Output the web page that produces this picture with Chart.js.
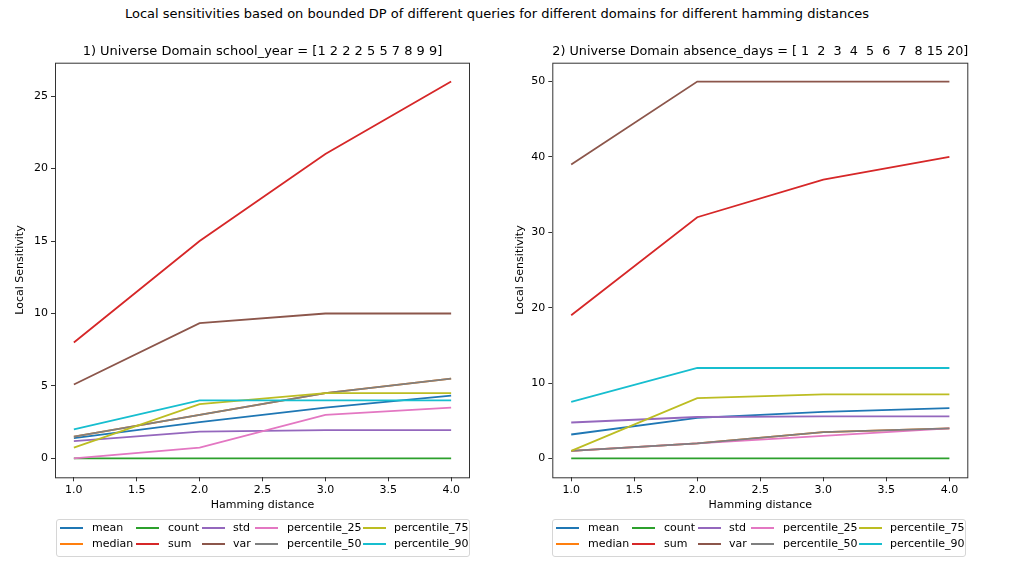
<!DOCTYPE html>
<html lang="en">
<head>
    <meta charset="UTF-8">
    <title>Local sensitivities</title>
    <script src="https://cdn.jsdelivr.net/npm/chart.js"></script>
    <style>
        body {
            margin: 0;
            width: 1016px;
            height: 576px;
            background: #fff;
            font-family: 'DejaVu Sans', sans-serif;
            position: relative;
            overflow: hidden;
        }
        #suptitle {
            position: absolute;
            left: 0;
            width: 994px;
            top: 6px;
            text-align: center;
            font-size: 13px;
            color: #000;
        }
        .chart-box {
            position: absolute;
            top: 40px;
            width: 500px;
            height: 480px;
        }
        .legend {
            position: absolute;
            top: 519px;
            width: 414px;
            height: 38px;
            border: 1px solid #d6d6d6;
            border-radius: 3px;
            box-sizing: border-box;
            font-size: 11px;
            color: #000;
        }
        .legend .item {
            position: absolute;
            height: 13px;
            line-height: 13px;
            white-space: nowrap;
        }
        .legend .handle {
            position: absolute;
            left: 0;
            top: 6px;
            width: 23px;
            height: 2px;
        }
        .legend .label {
            position: absolute;
            top: 0;
        }
    </style>
</head>
<body>
    <div id="suptitle">Local sensitivities based on bounded DP of different queries for different domains for different hamming distances</div>

    <div class="chart-box" style="left:0px"><canvas id="chart1"></canvas></div>
    <div class="chart-box" style="left:500px"><canvas id="chart2"></canvas></div>

    <div class="legend" id="legend1" style="left:56px"></div>
    <div class="legend" id="legend2" style="left:552px"></div>

    <script>
        // hamming distances on the x axis
        const hamming = [1, 2, 3, 4];
        const xTicks = [1.0, 1.5, 2.0, 2.5, 3.0, 3.5, 4.0];

        const queries = ['mean', 'median', 'count', 'sum', 'std', 'var',
                         'percentile_25', 'percentile_50', 'percentile_75', 'percentile_90'];
        const colors = ['#1f77b4', '#ff7f0e', '#2ca02c', '#d62728', '#9467bd',
                        '#8c564b', '#e377c2', '#7f7f7f', '#bcbd22', '#17becf'];

        // 1) school_year domain
        const title1 = '1) Universe Domain school_year = [1 2 2 2 5 5 7 8 9 9]';
        const sy_mean = [1.4, 2.5, 3.5, 4.33];
        const sy_median = [1.5, 3.0, 4.5, 5.5];
        const sy_count = [0, 0, 0, 0];
        const sy_sum = [8, 15, 21, 26];
        const sy_std = [1.2, 1.85, 1.96, 1.96];
        const sy_var = [5.1, 9.33, 10, 10];
        const sy_p25 = [0, 0.75, 3.0, 3.5];
        const sy_p50 = [1.5, 3.0, 4.5, 5.5];
        const sy_p75 = [0.75, 3.75, 4.5, 4.5];
        const sy_p90 = [2, 4, 4, 4];
        const yTicks1 = [0, 5, 10, 15, 20, 25];

        // 2) absence_days domain
        const title2 = '2) Universe Domain absence_days = [ 1  2  3  4  5  6  7  8 15 20]';
        const ad_mean = [3.18, 5.39, 6.19, 6.68];
        const ad_median = [1, 2, 3.5, 4];
        const ad_count = [0, 0, 0, 0];
        const ad_sum = [19, 32, 37, 40];
        const ad_std = [4.77, 5.5, 5.57, 5.57];
        const ad_var = [39, 50, 50, 50];
        const ad_p25 = [1, 2, 3, 4];
        const ad_p50 = [1, 2, 3.5, 4];
        const ad_p75 = [1, 8, 8.5, 8.5];
        const ad_p90 = [7.5, 12, 12, 12];
        const yTicks2 = [0, 10, 20, 30, 40, 50];

        const series1 = [sy_mean, sy_median, sy_count, sy_sum, sy_std, sy_var, sy_p25, sy_p50, sy_p75, sy_p90];
        const series2 = [ad_mean, ad_median, ad_count, ad_sum, ad_std, ad_var, ad_p25, ad_p50, ad_p75, ad_p90];

        // draws the full axes frame like matplotlib spines
        const framePlugin = {
            id: 'frame',
            afterDraw(chart) {
                const a = chart.chartArea;
                const c = chart.ctx;
                c.save();
                c.strokeStyle = '#333';
                c.lineWidth = 1;
                c.strokeRect(a.left + 0.5, a.top + 0.5, a.right - a.left - 1, a.bottom - a.top);
                c.restore();
            }
        };

        function makeChart(id, title, series, yTicks, yMin, yMax, padRight) {
            const datasets = series.map((vals, i) => ({
                label: queries[i],
                data: hamming.map((h, j) => ({ x: h, y: vals[j] })),
                borderColor: colors[i],
                backgroundColor: colors[i],
                borderWidth: 1.8,
                pointRadius: 0,
                fill: false,
                tension: 0,
                order: series.length - i   // later series on top, like matplotlib
            }));

            return new Chart(document.getElementById(id), {
                type: 'line',
                data: { datasets: datasets },
                plugins: [framePlugin],
                options: {
                    responsive: true,
                    maintainAspectRatio: false,
                    animation: false,
                    devicePixelRatio: 1,
                    layout: { padding: { left: 0, right: padRight, top: 0, bottom: 0 } },
                    plugins: {
                        legend: { display: false },
                        tooltip: { enabled: false },
                        title: {
                            display: true,
                            text: title,
                            fullSize: false,
                            color: '#000',
                            font: { family: 'DejaVu Sans', size: 13, weight: 'normal' },
                            padding: { top: 3.5, bottom: 3.6 }
                        }
                    },
                    scales: {
                        x: {
                            type: 'linear',
                            min: 0.85,
                            max: 4.15,
                            afterBuildTicks: s => { s.ticks = xTicks.map(v => ({ value: v })); },
                            afterFit: s => { s.height = 42.7; },
                            ticks: {
                                color: '#000',
                                padding: 2,
                                maxRotation: 0,
                                font: { family: 'DejaVu Sans', size: 11 },
                                callback: v => Number(v).toFixed(1)
                            },
                            grid: { drawOnChartArea: false, drawTicks: true, tickLength: 4, color: '#333' },
                            border: { display: false },
                            title: {
                                display: true,
                                text: 'Hamming distance',
                                color: '#000',
                                font: { family: 'DejaVu Sans', size: 11 },
                                padding: { top: 0, bottom: 8.4 }
                            }
                        },
                        y: {
                            type: 'linear',
                            min: yMin,
                            max: yMax,
                            afterBuildTicks: s => { s.ticks = yTicks.map(v => ({ value: v })); },
                            afterFit: s => { s.width = id === 'chart1' ? 55 : 52.3; },
                            ticks: {
                                color: '#000',
                                padding: 3,
                                font: { family: 'DejaVu Sans', size: 11 }
                            },
                            grid: { drawOnChartArea: false, drawTicks: true, tickLength: 4, color: '#333' },
                            border: { display: false },
                            title: {
                                display: true,
                                text: 'Local Sensitivity',
                                color: '#000',
                                font: { family: 'DejaVu Sans', size: 11 },
                                padding: { top: 14, bottom: 0 }
                            }
                        }
                    }
                }
            });
        }

        makeChart('chart1', title1, series1, yTicks1, -1.3, 27.3, 30);
        makeChart('chart2', title2, series2, yTicks2, -2.5, 52.5, 31.7);

        // legend laid out column by column, two rows, like matplotlib ncol=5
        const handleX = [3, 79, 145, 198, 306];
        const labelX = [35, 111, 176, 230, 337];
        const rowY = [1, 17];

        function buildLegend(elId) {
            const box = document.getElementById(elId);
            queries.forEach((q, i) => {
                const col = Math.floor(i / 2);
                const row = i % 2;
                const item = document.createElement('div');
                item.className = 'item';
                item.style.left = '0px';
                item.style.top = rowY[row] + 'px';
                item.style.width = '100%';

                const h = document.createElement('span');
                h.className = 'handle';
                h.style.left = handleX[col] + 'px';
                h.style.background = colors[i];

                const t = document.createElement('span');
                t.className = 'label';
                t.style.left = labelX[col] + 'px';
                t.textContent = q;

                item.appendChild(h);
                item.appendChild(t);
                box.appendChild(item);
            });
        }

        buildLegend('legend1');
        buildLegend('legend2');
    </script>
</body>
</html>
